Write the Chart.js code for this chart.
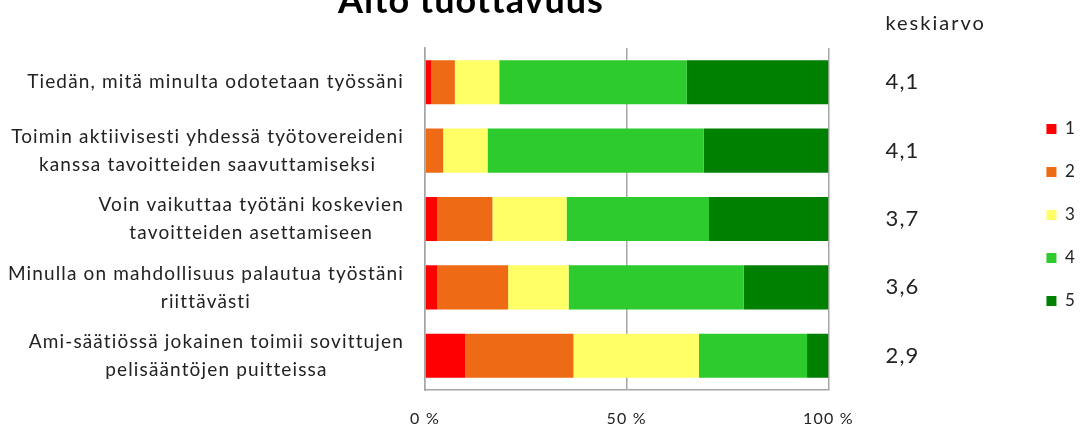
<!DOCTYPE html>
<html>
<head>
<meta charset="utf-8">
<script src="https://cdn.jsdelivr.net/npm/chart.js@4.4.1/dist/chart.umd.min.js"></script>
<style>
  body { margin: 0; background: #fff; }
  #wrap { width: 1086px; height: 430px; position: relative; }
</style>
</head>
<body>
<div id="wrap"><canvas id="chart"></canvas></div>
<script>
const title = 'Aito tuottavuus';
const avgTitle = 'keskiarvo';
const categories = [
  ['Tiedän, mitä minulta odotetaan työssäni'],
  ['Toimin aktiivisesti yhdessä työtovereideni', 'kanssa tavoitteiden saavuttamiseksi'],
  ['Voin vaikuttaa työtäni koskevien', 'tavoitteiden asettamiseen'],
  ['Minulla on mahdollisuus palautua työstäni', 'riittävästi'],
  ['Ami-säätiössä jokainen toimii sovittujen', 'pelisääntöjen puitteissa']
];
const averages = ['4,1', '4,1', '3,7', '3,6', '2,9'];
const seriesNames = ['1', '2', '3', '4', '5'];
const colors = ['#ff0000', '#ee6a14', '#ffff66', '#2dcb2e', '#008000'];
const share1 = [1.5, 0, 3.1, 3.1, 10.0];
const share2 = [5.9, 4.5, 13.6, 17.5, 26.8];
const share3 = [11.0, 11.0, 18.4, 15.0, 31.1];
const share4 = [46.5, 53.6, 35.3, 43.4, 26.8];
const share5 = [35.1, 30.9, 29.6, 21.0, 5.3];
const xTicks = [0, 50, 100];

const FONT = 'Lato, "Open Sans", sans-serif';
const textColor = '#222222';
const gridColor = '#a6a6a6';

// Calibri-ish spacing
const spacing = {
  id: 'spacing',
  beforeLayout(chart) { chart.ctx.letterSpacing = '1.2px'; },
  beforeDraw(chart) { chart.ctx.letterSpacing = '1.2px'; }
};

// category labels (centred lines, right aligned block), title, average header
const labelsPlugin = {
  id: 'labelsPlugin',
  afterDraw(chart) {
    const ctx = chart.ctx;
    const y = chart.scales.y;
    const right = chart.chartArea.left - 21;
    ctx.save();
    ctx.letterSpacing = '1.15px';
    ctx.fillStyle = textColor;
    ctx.font = '19px ' + FONT;
    ctx.textAlign = 'center';
    ctx.textBaseline = 'middle';
    categories.forEach((lines, i) => {
      const widest = Math.max(...lines.map(l => ctx.measureText(l).width));
      const cx = right - widest / 2;
      const cy = y.getPixelForValue(i);
      lines.forEach((l, j) => {
        ctx.fillText(l, cx, cy + (j - (lines.length - 1) / 2) * 28);
      });
    });

    ctx.letterSpacing = '1px';
    ctx.font = 'bold 36px ' + FONT;
    ctx.fillStyle = '#000';
    ctx.textBaseline = 'alphabetic';
    ctx.fillText(title, 471, 13);

    const y2 = chart.scales.y2;
    ctx.letterSpacing = '2px';
    ctx.font = '20px ' + FONT;
    ctx.fillStyle = textColor;
    ctx.textAlign = 'left';
    ctx.textBaseline = 'middle';
    ctx.fillText(avgTitle, y2.left + 57, 24);
    ctx.restore();
  }
};

const datasets = [share1, share2, share3, share4, share5].map((d, i) => ({
  label: seriesNames[i],
  data: d,
  backgroundColor: colors[i],
  borderWidth: 0,
  yAxisID: 'y',
  xAxisID: 'x'
}));

new Chart(document.getElementById('chart'), {
  type: 'bar',
  data: { labels: categories.map(c => c.join(' ')), datasets: datasets },
  options: {
    indexAxis: 'y',
    responsive: true,
    maintainAspectRatio: false,
    animation: false,
    layout: { padding: 0 },
    datasets: { bar: { categoryPercentage: 1, barPercentage: 0.645 } },
    plugins: {
      legend: {
        position: 'right',
        labels: {
          boxWidth: 10,
          boxHeight: 10,
          padding: 26,
          color: textColor,
          font: { family: FONT, size: 17 }
        }
      },
      tooltip: { enabled: false }
    },
    scales: {
      x: {
        stacked: true,
        min: 0,
        max: 100,
        afterBuildTicks: s => { s.ticks = xTicks.map(v => ({ value: v })); },
        afterFit: s => { s.height = 40; },
        grid: { color: gridColor, lineWidth: 1.5, drawTicks: false },
        border: { color: gridColor, width: 1.5 },
        ticks: {
          padding: 19,
          color: textColor,
          font: { family: FONT, size: 16 },
          callback: v => v + ' %'
        }
      },
      xTop: {
        type: 'linear',
        position: 'top',
        min: 0,
        max: 100,
        afterFit: s => { s.height = 48; },
        grid: { display: false },
        border: { display: false },
        ticks: { display: false }
      },
      y: {
        stacked: true,
        afterFit: s => { s.width = 425; },
        grid: { display: false },
        border: { color: gridColor, width: 1.5 },
        ticks: { display: false }
      },
      y2: {
        type: 'category',
        position: 'right',
        labels: averages,
        offset: true,
        afterFit: s => { s.width = 192; },
        grid: { display: false, drawTicks: true, tickLength: 56 },
        border: { display: false },
        ticks: {
          padding: 1,
          color: textColor,
          font: { family: FONT, size: 22 }
        }
      }
    }
  },
  plugins: [spacing, labelsPlugin]
});
</script>
</body>
</html>
